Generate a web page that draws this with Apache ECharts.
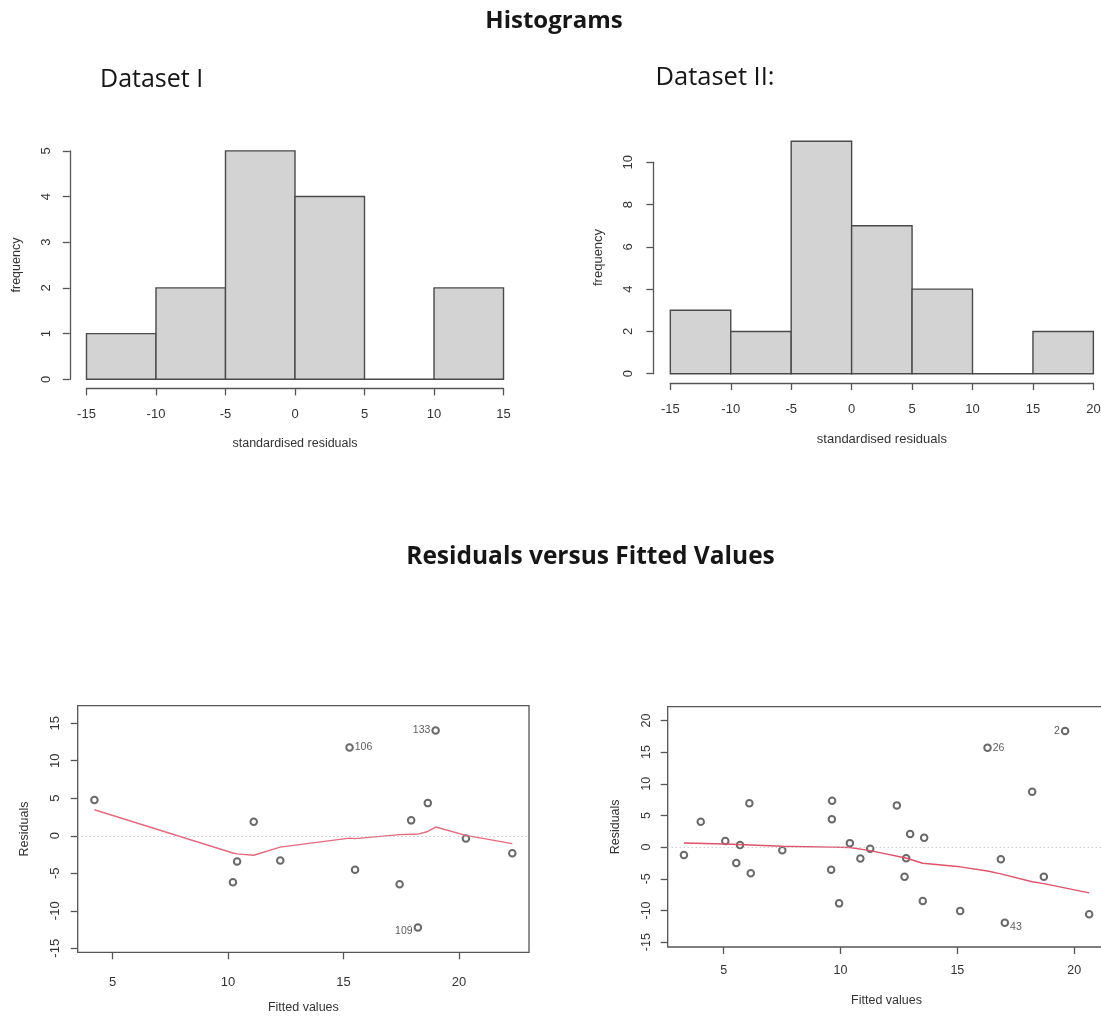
<!DOCTYPE html>
<html>
<head>
<meta charset="utf-8">
<script src="https://cdn.jsdelivr.net/npm/echarts@6/dist/echarts.min.js"></script>
<style>
  html, body { margin: 0; padding: 0; background: #fff; }
  #chart { width: 1101px; height: 1017px; }
</style>
</head>
<body>
<div id="chart"></div>
<script>
// ---- Histogram data: bin edges and counts of standardised residuals ----
const binEdges1 = [-15, -10, -5, 0, 5, 10, 15];
const binCounts1 = [1, 2, 5, 4, 0, 2];
const binEdges2 = [-15, -10, -5, 0, 5, 10, 15, 20];
const binCounts2 = [3, 2, 11, 7, 4, 0, 2];

const histXTicks1 = [-15, -10, -5, 0, 5, 10, 15];
const histYTicks1 = [0, 1, 2, 3, 4, 5];
const histXTicks2 = [-15, -10, -5, 0, 5, 10, 15, 20];
const histYTicks2 = [0, 2, 4, 6, 8, 10];

// ---- Residuals vs fitted: Dataset I ----
const fitted1 = [4.21, 10.21, 10.39, 11.11, 12.26, 15.26, 15.5, 17.43, 17.93, 18.22, 18.65, 18.99, 20.3, 22.31];
const resid1  = [4.76, -6.19, -3.43, 1.87, -3.29, 11.75, -4.54, -6.46, 2.05, -12.22, 4.35, 14.02, -0.36, -2.34];
const ids1    = ['', '', '', '', '', '106', '', '', '', '109', '', '133', '', ''];
const smoothX1 = [4.21, 10.21, 10.39, 11.11, 12.26, 15.26, 15.5, 17.43, 17.93, 18.22, 18.65, 18.99, 20.3, 22.31];
const smoothY1 = [3.47, -2.3, -2.42, -2.6, -1.51, -0.31, -0.38, 0.15, 0.2, 0.22, 0.57, 1.16, 0.05, -1.05];
const resXTicks1 = [5, 10, 15, 20];
const resYTicks1 = [-15, -10, -5, 0, 5, 10, 15];

// ---- Residuals vs fitted: Dataset II ----
const fitted2 = [3.30, 4.02, 5.07, 5.54, 5.70, 6.10, 6.16, 7.51, 9.60, 9.63, 9.64, 9.94, 10.40, 10.85, 11.27,
                 12.41, 12.74, 12.81, 12.98, 13.52, 13.58, 15.12, 16.29, 16.86, 17.03, 18.20, 18.70, 19.61, 20.64];
const resid2  = [-1.26, 4.0, 0.95, -2.5, 0.32, 6.91, -4.11, -0.5, -3.58, 4.4, 7.33, -8.88, 0.63, -1.81, -0.26,
                 6.59, -4.69, -1.74, 2.06, -8.52, 1.48, -10.07, 15.68, -1.9, -11.94, 8.75, -4.69, 18.34, -10.6];
const ids2    = ['', '', '', '', '', '', '', '', '', '', '', '', '', '', '',
                 '', '', '', '', '', '', '', '26', '', '43', '', '', '2', ''];
const smoothX2 = [3.30, 5.07, 7.51, 9.60, 10.40, 11.27, 12.79, 13.52, 15.12, 16.29, 16.86, 18.20, 18.70, 20.64];
const smoothY2 = [0.65, 0.5, 0.14, 0.0, -0.07, -0.55, -1.72, -2.55, -3.11, -3.77, -4.22, -5.47, -5.77, -7.22];
const resXTicks2 = [5, 10, 15, 20];
const resYTicks2 = [-15, -10, -5, 0, 5, 10, 15, 20];

// ---- helpers ----
const AXIS_FONT = '"Liberation Sans", Arial, sans-serif';
const TITLE_FONT = '"Open Sans", "Noto Sans", sans-serif';
const LINE_COLOR = '#555';
const TEXT_COLOR = '#333';

function extend(r, f) {
  const d = (r[1] - r[0]) * f;
  return [r[0] - d, r[1] + d];
}
function range(a) { return [Math.min.apply(null, a), Math.max.apply(null, a)]; }

// place a sub-rectangle of a plot region that covers [a, b] of its x or y range
function subX(rect, xr, a, b) {
  const k = rect.width / (xr[1] - xr[0]);
  return { left: rect.left + (a - xr[0]) * k, width: (b - a) * k, top: rect.top, height: rect.height };
}
function subY(rect, yr, a, b) {
  const k = rect.height / (yr[1] - yr[0]);
  return { left: rect.left, width: rect.width, top: rect.top + (yr[1] - b) * k, height: (b - a) * k };
}

const grids = [], xAxes = [], yAxes = [], series = [];
const hidden = { show: false };

function addGrid(rect, border) {
  const g = {
    left: rect.left, top: rect.top, width: rect.width, height: rect.height,
    containLabel: false, outerBoundsMode: 'none'
  };
  if (border) {
    g.show = true; g.borderColor = LINE_COLOR; g.borderWidth = 1.3; g.backgroundColor = 'transparent';
  }
  grids.push(g);
  return grids.length - 1;
}

function plainAxis(gi, r, extra) {
  return Object.assign({
    type: 'value', gridIndex: gi, min: r[0], max: r[1],
    axisLine: { show: false, onZero: false }, axisTick: hidden, axisLabel: hidden, splitLine: hidden
  }, extra || {});
}

function tickAxis(gi, ticks, isY, opts) {
  return {
    type: 'value', gridIndex: gi,
    min: ticks[0], max: ticks[ticks.length - 1], interval: ticks[1] - ticks[0],
    axisLine: { show: !!opts.line, onZero: false, lineStyle: { color: LINE_COLOR, width: 1.3 } },
    axisTick: { show: true, length: 7, lineStyle: { color: LINE_COLOR, width: 1.3 } },
    axisLabel: {
      show: true, margin: opts.margin, rotate: isY ? 90 : 0,
      fontFamily: AXIS_FONT, fontSize: opts.fontSize, color: TEXT_COLOR
    },
    splitLine: hidden
  };
}

function nameStyle(size) {
  return { fontFamily: AXIS_FONT, fontSize: size, color: TEXT_COLOR };
}

// ---- histogram panel ----
function histogram(rect, edges, counts, xTicks, yTicks, cfg) {
  const xr = extend([edges[0], edges[edges.length - 1]], 0.04);
  const yr = extend([0, Math.max.apply(null, counts)], 0.04);

  const gi = addGrid(rect, false);
  xAxes.push(plainAxis(gi, xr, {
    name: 'standardised residuals', nameLocation: 'middle', nameGap: cfg.xNameGap, nameTextStyle: nameStyle(cfg.nameSize)
  }));
  yAxes.push(plainAxis(gi, yr, {
    name: 'frequency', nameLocation: 'middle', nameGap: cfg.yNameGap, nameTextStyle: nameStyle(cfg.nameSize)
  }));

  // x axis spanning only the tick range
  const gx = addGrid(subX(rect, xr, xTicks[0], xTicks[xTicks.length - 1]), false);
  xAxes.push(tickAxis(gx, xTicks, false, { line: true, margin: cfg.xMargin, fontSize: cfg.tickSize }));
  yAxes.push(plainAxis(gx, yr));

  // y axis spanning only the tick range
  const gy = addGrid(subY(rect, yr, yTicks[0], yTicks[yTicks.length - 1]), false);
  xAxes.push(plainAxis(gy, xr));
  yAxes.push(tickAxis(gy, yTicks, true, { line: true, margin: cfg.yMargin, fontSize: cfg.tickSize }));

  series.push({
    type: 'custom', xAxisIndex: gi, yAxisIndex: gi,
    data: counts.map((c, i) => [edges[i], edges[i + 1], c]),
    encode: { x: [0, 1], y: 2 },
    renderItem: function (params, api) {
      const p0 = api.coord([api.value(0), api.value(2)]);
      const p1 = api.coord([api.value(1), 0]);
      return {
        type: 'rect',
        shape: { x: p0[0], y: p0[1], width: p1[0] - p0[0], height: p1[1] - p0[1] },
        style: { fill: '#d3d3d3', stroke: '#4a4a4a', lineWidth: 1.4 }
      };
    }
  });
}

// ---- residuals vs fitted panel ----
function residualPlot(rect, fitted, resid, ids, sx, sy, xTicks, yTicks, cfg) {
  const xr = extend(range(fitted), 0.04);
  const yr = extend(extend(range(resid), 0.08), 0.04);

  const gi = addGrid(rect, true);
  xAxes.push(plainAxis(gi, xr, {
    name: 'Fitted values', nameLocation: 'middle', nameGap: cfg.xNameGap, nameTextStyle: nameStyle(cfg.nameSize)
  }));
  yAxes.push(plainAxis(gi, yr, {
    name: 'Residuals', nameLocation: 'middle', nameGap: cfg.yNameGap, nameTextStyle: nameStyle(cfg.nameSize)
  }));

  const gx = addGrid(subX(rect, xr, xTicks[0], xTicks[xTicks.length - 1]), false);
  xAxes.push(tickAxis(gx, xTicks, false, { line: false, margin: cfg.xMargin, fontSize: cfg.tickSize }));
  yAxes.push(plainAxis(gx, yr));

  const gy = addGrid(subY(rect, yr, yTicks[0], yTicks[yTicks.length - 1]), false);
  xAxes.push(plainAxis(gy, xr));
  yAxes.push(tickAxis(gy, yTicks, true, { line: false, margin: cfg.yMargin, fontSize: cfg.tickSize }));

  // labelled points go right of the point in the left half of their spread, left otherwise
  const labelledX = fitted.filter((x, i) => ids[i]);
  const mid = (Math.min.apply(null, labelledX) + Math.max.apply(null, labelledX)) / 2;

  const data = fitted.map((x, i) => {
    const item = { value: [x, resid[i]] };
    if (ids[i]) {
      item.label = {
        show: true, formatter: ids[i], position: x > mid ? 'left' : 'right', distance: 1,
        offset: [0, resid[i] < 0 ? 4 : 0],
        fontFamily: AXIS_FONT, fontSize: 10.5, color: '#333'
      };
    }
    return item;
  });

  series.push({
    type: 'scatter', xAxisIndex: gi, yAxisIndex: gi,
    symbol: 'emptyCircle', symbolSize: 6.5,
    itemStyle: { color: '#444', borderColor: '#444', borderWidth: 0.9 },
    data: data,
    markLine: {
      silent: true, symbol: 'none', label: { show: false },
      lineStyle: { type: [1, 3], color: '#b5b5b5', width: 1 },
      data: [{ yAxis: 0 }]
    },
    z: 2
  });

  series.push({
    type: 'line', xAxisIndex: gi, yAxisIndex: gi,
    data: sx.map((x, i) => [x, sy[i]]),
    showSymbol: false, symbol: 'none',
    lineStyle: { color: cfg.smoothColor, width: 1.4 },
    z: 3
  });
}

// ---- panels ----
histogram({ left: 69.8, top: 141.7, width: 450.4, height: 246.7 },
  binEdges1, binCounts1, histXTicks1, histYTicks1,
  { xNameGap: 49, yNameGap: 47, xMargin: 20, yMargin: 17, tickSize: 13, nameSize: 12.5 });

histogram({ left: 653.4, top: 131.9, width: 456.9, height: 251.1 },
  binEdges2, binCounts2, histXTicks2, histYTicks2,
  { xNameGap: 50, yNameGap: 48, xMargin: 20, yMargin: 18.5, tickSize: 13, nameSize: 13 });

residualPlot({ left: 77.7, top: 705.7, width: 451.3, height: 246.6 },
  fitted1, resid1, ids1, smoothX1, smoothY1, resXTicks1, resYTicks1,
  { xNameGap: 49, yNameGap: 47, xMargin: 24, yMargin: 15.5, tickSize: 13, nameSize: 12.5, smoothColor: '#e26b80' });

residualPlot({ left: 667.7, top: 706.7, width: 437.7, height: 240.3 },
  fitted2, resid2, ids2, smoothX2, smoothY2, resXTicks2, resYTicks2,
  { xNameGap: 47, yNameGap: 45.5, xMargin: 17.5, yMargin: 15, tickSize: 12.5, nameSize: 12.5, smoothColor: '#DF536B' });

const chart = echarts.init(document.getElementById('chart'), null, { renderer: 'canvas' });
chart.setOption({
  animation: false,
  backgroundColor: '#ffffff',
  grid: grids,
  xAxis: xAxes,
  yAxis: yAxes,
  series: series,
  graphic: [
    { type: 'text', x: 554, y: 21.4, style: { text: 'Histograms', font: 'bold 24px ' + TITLE_FONT, fill: '#161616', align: 'center', verticalAlign: 'middle' } },
    { type: 'text', x: 100, y: 80.3, style: { text: 'Dataset I', font: '25px ' + TITLE_FONT, fill: '#161616', align: 'left', verticalAlign: 'middle' } },
    { type: 'text', x: 655.5, y: 77.6, style: { text: 'Dataset II:', font: '25.5px ' + TITLE_FONT, fill: '#161616', align: 'left', verticalAlign: 'middle' } },
    { type: 'text', x: 590.5, y: 557.4, style: { text: 'Residuals versus Fitted Values', font: 'bold 24.5px ' + TITLE_FONT, fill: '#161616', align: 'center', verticalAlign: 'middle' } }
  ]
});
</script>
</body>
</html>
